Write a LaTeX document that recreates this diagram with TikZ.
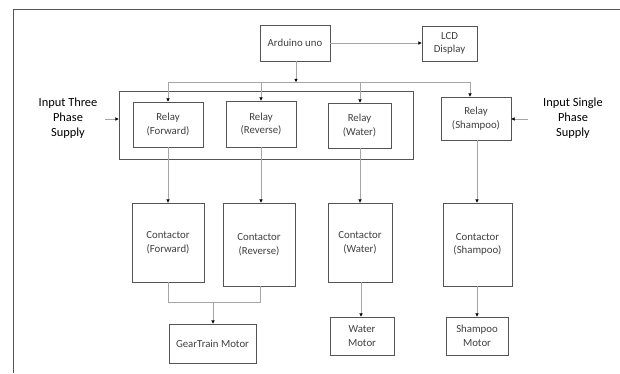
\documentclass[tikz,border=0pt]{standalone}
\usepackage{fontspec}
\setmainfont{Carlito}
\usetikzlibrary{arrows.meta}
\definecolor{boxline}{HTML}{555555}
\definecolor{conn}{HTML}{A6A6A6}
\definecolor{txt}{HTML}{404040}
\tikzset{
  blk/.style={draw=boxline, line width=0.8pt, align=center, text=txt,
    font=\fontsize{10.8}{13.5}\selectfont, inner sep=1pt},
  lbl/.style={align=center, text=black, font=\fontsize{12.4}{15}\selectfont, inner sep=1pt},
  conline/.style={draw=conn, line width=0.7pt},
  arr/.style={conline, -{Triangle[length=3.2pt,width=3.2pt,black]}},
  frameline/.style={draw=boxline, line width=0.8pt}
}
\begin{document}
\begin{tikzpicture}[x=1pt,y=-1pt]
\useasboundingbox (0,0) rectangle (620,373);
\fill[white] (0,0) rectangle (620,373);
% page frame
\draw[frameline] (13,373) -- (13,9) -- (620,9);

% nodes
\node[blk, minimum width=70pt, minimum height=36pt] (ard) at (295,43) {Arduino uno};
\node[blk, minimum width=55pt, minimum height=35pt] (lcd) at (449.5,43.5) {LCD\\Display};
\node[draw=boxline, line width=0.8pt, minimum width=294pt, minimum height=68pt] (big) at (266,125) {};
\node[blk, minimum width=70pt, minimum height=45pt] (rf) at (168,124.5) {Relay\\(Forward)};
\node[blk, minimum width=70pt, minimum height=46pt] (rr) at (261,124) {Relay\\(Reverse)};
\node[blk, minimum width=63pt, minimum height=45pt] (rw) at (359.5,125.5) {Relay\\(Water)};
\node[blk, minimum width=70pt, minimum height=43pt] (rs) at (476,118.5) {Relay\\(Shampoo)};
\node[blk, minimum width=72pt, minimum height=79pt] (cf) at (168,242.5) {Contactor\\(Forward)};
\node[blk, minimum width=72pt, minimum height=83pt] (cr) at (259,244.5) {Contactor\\(Reverse)};
\node[blk, minimum width=64pt, minimum height=79pt] (cw) at (360,242.5) {Contactor\\(Water)};
\node[blk, minimum width=69pt, minimum height=83pt] (cs) at (477.5,244.5) {Contactor\\(Shampoo)};
\node[blk, minimum width=87pt, minimum height=39pt] (gm) at (212.5,343.5) {GearTrain Motor};
\node[blk, minimum width=64pt, minimum height=38pt] (wm) at (362,336) {Water\\Motor};
\node[blk, minimum width=62pt, minimum height=38pt] (sm) at (477,336) {Shampoo\\Motor};
\node[lbl] (in3) at (68,118) {Input Three\\Phase\\Supply};
\node[lbl] (in1) at (573,118) {Input Single\\Phase\\Supply};

% coordinates
\coordinate (busL) at (168,82);
\coordinate (busR) at (470,82);
\coordinate (busA) at (296,82);
\coordinate (mrgL) at (168,302);
\coordinate (mrgR) at (260,302);
\coordinate (mrgM) at (213,302);
\coordinate (in3s) at (105,119);
\coordinate (in1s) at (528,119);

% connectors
\draw[arr] (ard.east) -- (lcd.west |- ard.east);
\draw[arr] (ard.south -| busA) -- (busA);
\draw[conline] (busL) -- (busR);
\draw[arr] (busL) -- (busL |- rf.north);
\draw[arr] (261,82) -- (rr.north -| 261,0);
\draw[arr] (360,82) -- (rw.north -| 360,0);
\draw[arr] (busR) -- (busR |- rs.north);

\draw[arr] (rf.south) -- (cf.north);
\draw[arr] (rr.south -| 261,0) -- (cr.north -| 261,0);
\draw[arr] (rw.south -| 360,0) -- (cw.north -| 360,0);
\draw[arr] (rs.south -| 477,0) -- (cs.north -| 477,0);

\draw[conline] (cf.south) -- (mrgL) -- (mrgR) -- (cr.south -| mrgR);
\draw[arr] (mrgM) -- (gm.north -| mrgM);
\draw[arr] (cw.south -| 361,0) -- (wm.north -| 361,0);
\draw[arr] (cs.south -| 477,0) -- (sm.north -| 477,0);

\draw[arr] (in3s) -- (big.west |- in3s);
\draw[arr] (in1s) -- (rs.east |- in1s);
\end{tikzpicture}
\end{document}
